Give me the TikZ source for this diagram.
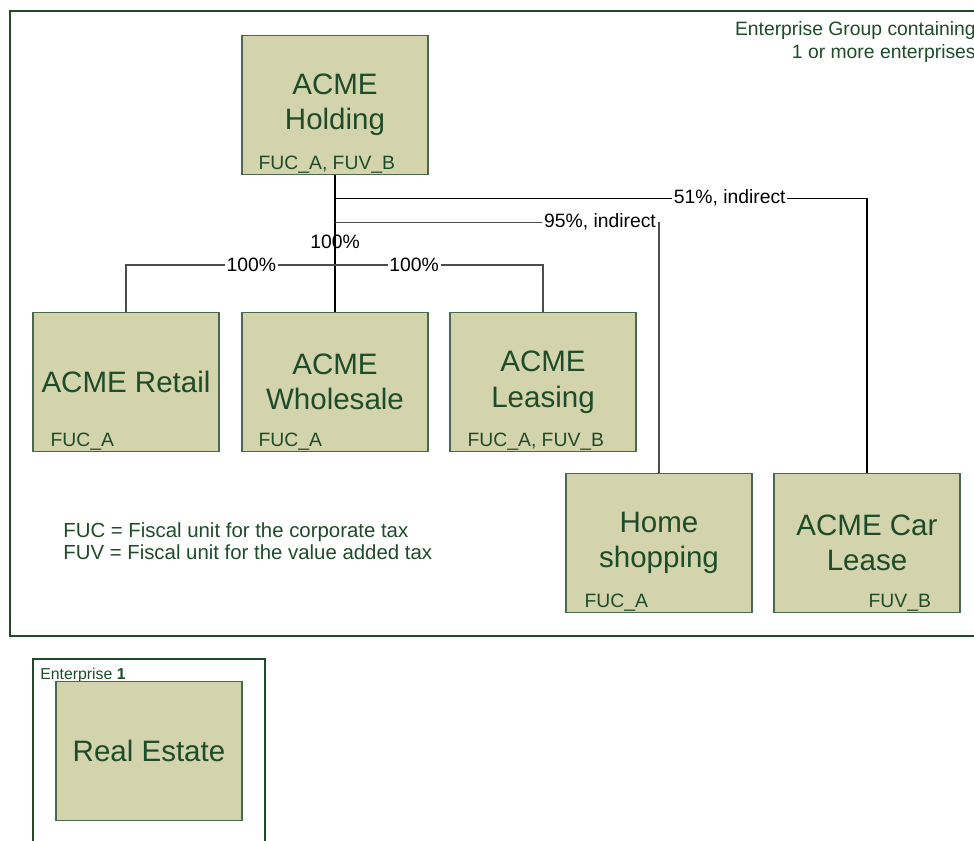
\documentclass[tikz,border=0pt]{standalone}
\usepackage{fontspec}
\setmainfont{Liberation Sans}
\usepackage{xcolor}
\usepackage{tikz}
\usetikzlibrary{calc}

\definecolor{txtgreen}{RGB}{30,76,42}
\definecolor{boxfill}{RGB}{211,211,172}
\definecolor{boxline}{RGB}{72,104,80}

\tikzset{
  unit/.style={draw=boxline, fill=boxfill, line width=0.8pt, minimum width=3.72cm,
    minimum height=2.78cm, inner sep=0pt, align=center, text=txtgreen,
    font=\fontsize{16.8}{20.2}\selectfont},
  fuc/.style={anchor=base west, inner sep=0pt, text=txtgreen, font=\fontsize{11}{13}\selectfont},
  link/.style={draw=black!70, line width=0.6pt},
  pct/.style={fill=white, inner sep=1pt, font=\fontsize{11}{13}\selectfont}
}

\begin{document}
\begin{tikzpicture}[x=0.02cm,y=-0.02cm]
\useasboundingbox (0,0) rectangle (974,840);
\clip (0,0) rectangle (974,840);
\fill[white] (0,0) rectangle (974,840);

% enterprise group
\draw[txtgreen, line width=0.8pt] (10,11) rectangle (1000,636);
\node[anchor=north east, align=right, inner sep=0pt, text=txtgreen,
  font=\fontsize{11}{13}\selectfont] (grp) at (976,21) {Enterprise Group containing\\1 or more enterprises};

\node[unit] (hold)   at (335,105) {ACME\\Holding};
\node[unit] (retail) at (126,382) {ACME Retail};
\node[unit] (whole)  at (335,382) {ACME\\Wholesale};
\node[unit] (lease)  at (543,382) {ACME\\Leasing};
\node[unit] (home)   at (659,543) {Home\\shopping};
\node[unit] (car)    at (867,543) {ACME Car\\Lease};

\node[fuc] (holdfu)   at ($(hold.south west)+(17,-6)$)   {FUC\_A, FUV\_B};
\node[fuc] (retailfu) at ($(retail.south west)+(18,-6)$) {FUC\_A};
\node[fuc] (wholefu)  at ($(whole.south west)+(17,-6)$)  {FUC\_A};
\node[fuc] (leasefu)  at ($(lease.south west)+(18,-6)$)  {FUC\_A, FUV\_B};
\node[fuc] (homefu)   at ($(home.south west)+(19,-6)$)   {FUC\_A};
\node[fuc] (carfu)    at ($(car.south west)+(95,-6)$)    {FUV\_B};

\node[anchor=north west, align=left, inner sep=0pt, text=txtgreen,
  font=\fontsize{11.6}{12.6}\selectfont] (legend) at (63,522)
  {FUC = Fiscal unit for the corporate tax\\FUV = Fiscal unit for the value added tax};

\coordinate (hub) at (335,265);

\draw[black, line width=1.2pt] (hold.south) -- node[pos=0.485, inner sep=0pt,
  font=\fontsize{11}{13}\selectfont] {100\%} (whole.north);
\draw[link, black] (hold.south) ++(0,23) -| node[pct, pos=0.371] {51\%, indirect} (car.north);
\draw[link] (hold.south) ++(0,47) -| node[pct, pos=0.409] {95\%, indirect} (home.north);
\draw[link] (retail.north) |- node[pct, pos=0.8] {100\%} (hub)
  -| node[pct, pos=0.19] {100\%} (lease.north);

% enterprise 1
\draw[txtgreen, line width=0.8pt] (33,659) rectangle (265,870);
\node[anchor=base west, inner sep=0pt, text=txtgreen, font=\fontsize{9}{11}\selectfont]
  (ent) at (40,679) {Enterprise \textbf{1}};
\node[unit] (estate) at (149,751) {Real Estate};
\end{tikzpicture}
\end{document}
